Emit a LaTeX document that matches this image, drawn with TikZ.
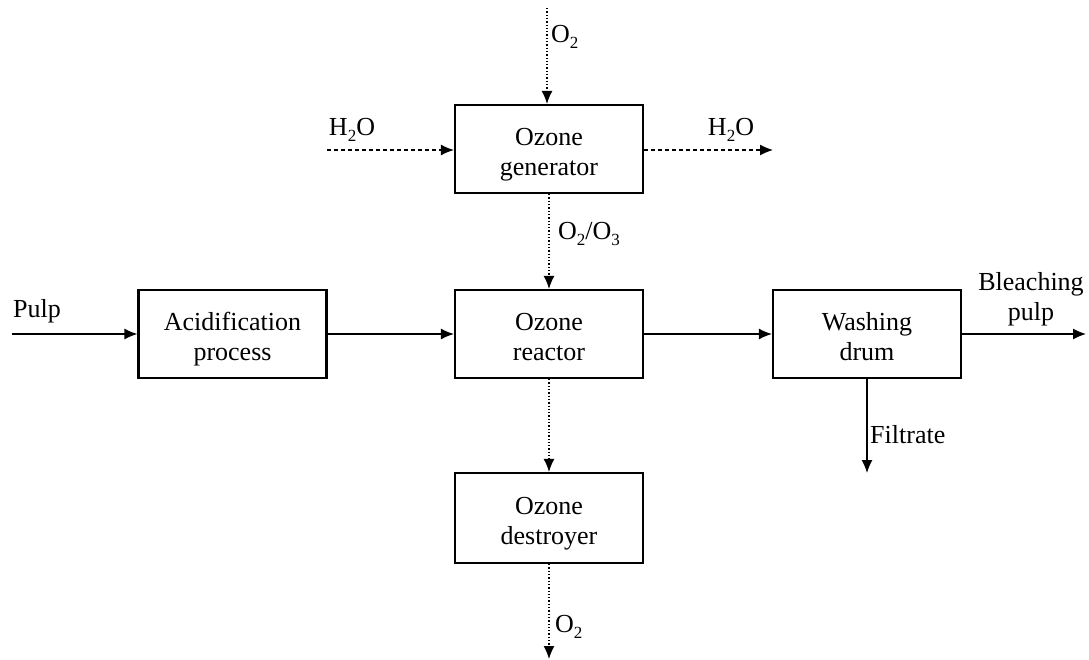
\documentclass[tikz,border=0pt]{standalone}
\usepackage{fontspec}
\setmainfont{Liberation Serif}
\usetikzlibrary{arrows.meta}
\newcommand{\twoline}[2]{\raisebox{-5pt}[\height][\depth]{\begin{tabular}{@{}c@{}}#1\\#2\end{tabular}}}
\newcommand{\sub}[1]{\raisebox{-6pt}{\fontsize{17}{17}\selectfont #1}}
\begin{document}
\begin{tikzpicture}[x=1pt,y=-1pt,
  font=\fontsize{26}{30}\selectfont,
  box/.style={draw, line width=2.2pt, minimum width=188pt, minimum height=88pt, align=center, inner sep=0pt},
  flow/.style={line width=1.3pt, -{Latex[length=13pt,width=11pt]}},
  dotflow/.style={flow, dash pattern=on 1.3pt off 2pt},
  dashflow/.style={flow, dash pattern=on 4pt off 3pt},
  lbl/.style={inner sep=1pt, align=center}]
\useasboundingbox (0,0) rectangle (1089,659);
\node[box] (gen) at (549,149) {\twoline{Ozone}{generator}};
\node[box] (acid) at (232.5,334) {\twoline{Acidification}{process}};
\node[box] (reac) at (549,334) {\twoline{Ozone}{reactor}};
\node[box] (wash) at (867,334) {\twoline{Washing}{drum}};
\node[box, minimum height=90pt] (dest) at (549,518) {\twoline{Ozone}{destroyer}};

\coordinate (o2in) at (547,8);
\coordinate (h2oin) at (327,150);
\coordinate (h2oout) at (773,150);
\coordinate (pulpin) at (12,334);
\coordinate (bleach) at (1086,334);
\coordinate (filt) at (867,473);
\coordinate (o2out) at (549,659);

\draw[dotflow] (o2in) -- (gen.north -| o2in);
\draw[dashflow] (h2oin) -- (gen.west |- h2oin);
\draw[dashflow] (gen.east |- h2oout) -- (h2oout);
\draw[dotflow] (gen) -- (reac);
\draw[flow] (pulpin) -- (acid);
\draw[flow] (acid) -- (reac);
\draw[flow] (reac) -- (wash);
\draw[flow] (wash) -- (bleach);
\draw[flow] (wash.south -| filt) -- (filt);
\draw[dotflow] (reac) -- (dest);
\draw[dotflow] (dest) -- (o2out);

\node[lbl, anchor=west] (lo2in) at (550,37) {O\sub{2}};
\node[lbl] (lh2oin) at (352,130) {H\sub{2}O};
\node[lbl] (lh2oout) at (731,130) {H\sub{2}O};
\node[lbl, anchor=west] (lo2o3) at (557,234) {O\sub{2}/O\sub{3}};
\node[lbl] (lpulp) at (37,311) {Pulp};
\node[lbl] (lbleach) at (1031,299) {Bleaching\\pulp};
\node[lbl, anchor=west] (lfilt) at (869,435) {Filtrate};
\node[lbl, anchor=west] (lo2out) at (554,627) {O\sub{2}};
\end{tikzpicture}
\end{document}
